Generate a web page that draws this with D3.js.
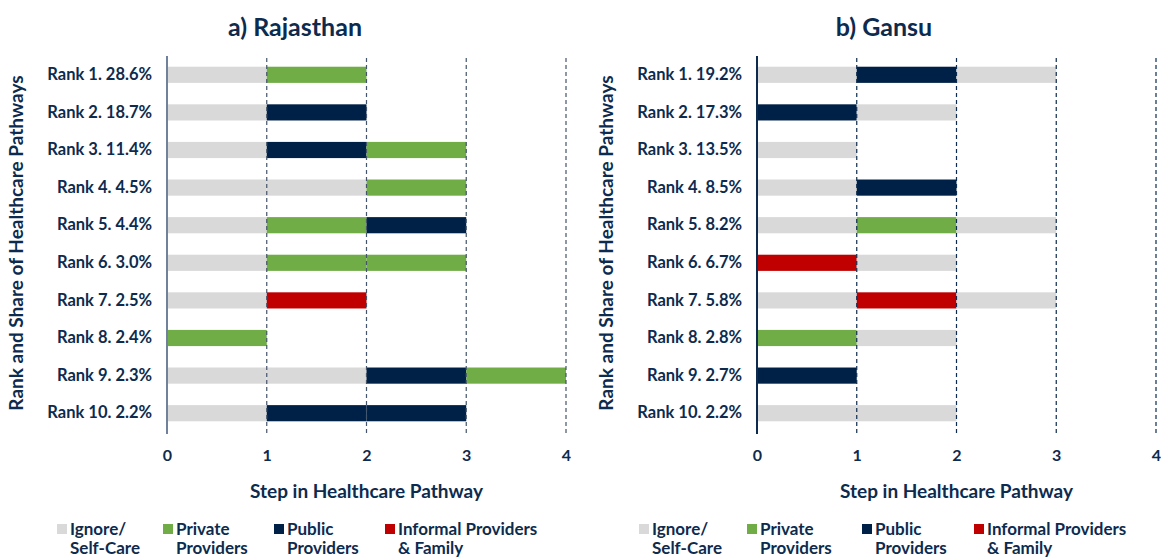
<!DOCTYPE html>
<html>
<head>
<meta charset="utf-8">
<script src="https://cdn.jsdelivr.net/npm/d3@7"></script>
<style>
  body { margin: 0; background: #fff; }
  text { font-family: 'Lato', 'Open Sans', sans-serif; font-weight: bold; fill: #0d2b4e; }
</style>
</head>
<body>
<div id="chart"></div>
<script>
// categories of care at each step
const stepTypes = ["self", "private", "public", "informal"];
const stepColors = ["#d9d9d9", "#70ad47", "#002147", "#c00000"];
const legendLabels = [["Ignore/", "Self-Care"], ["Private", "Providers"], ["Public", "Providers"], ["Informal Providers", "& Family"]];
const xTicks = [0, 1, 2, 3, 4];

// a) Rajasthan
const rajShares = ["28.6%", "18.7%", "11.4%", "4.5%", "4.4%", "3.0%", "2.5%", "2.4%", "2.3%", "2.2%"];
const rajPaths = [
  ["self", "private"],
  ["self", "public"],
  ["self", "public", "private"],
  ["self", "self", "private"],
  ["self", "private", "public"],
  ["self", "private", "private"],
  ["self", "informal"],
  ["private"],
  ["self", "self", "public", "private"],
  ["self", "public", "public"]
];

// b) Gansu
const ganShares = ["19.2%", "17.3%", "13.5%", "8.5%", "8.2%", "6.7%", "5.8%", "2.8%", "2.7%", "2.2%"];
const ganPaths = [
  ["self", "public", "self"],
  ["public", "self"],
  ["self"],
  ["self", "public"],
  ["self", "private", "self"],
  ["informal", "self"],
  ["self", "informal", "self"],
  ["private", "self"],
  ["public"],
  ["self", "self"]
];

const W = 1161, H = 559;
const svg = d3.select("#chart").append("svg")
  .attr("width", W)
  .attr("height", H);

const color = d3.scaleOrdinal().domain(stepTypes).range(stepColors);

function drawPanel(opts) {
  const g = svg.append("g");
  const x = d3.scaleLinear().domain([0, 4]).range([opts.x0, opts.x0 + 399]);
  const labels = opts.shares.map((s, i) => "Rank " + (i + 1) + ". " + s);
  const y = d3.scaleBand().domain(labels).range([56, 432])
    .paddingInner(0.57).paddingOuter(0.285);

  // flatten paths into segments
  const segs = [];
  opts.paths.forEach((p, i) => {
    p.forEach((t, j) => segs.push({ row: labels[i], step: j, type: t }));
  });

  g.selectAll("rect.seg")
    .data(segs)
    .enter().append("rect")
    .attr("class", "seg")
    .attr("x", d => x(d.step))
    .attr("width", d => x(d.step + 1) - x(d.step))
    .attr("y", d => y(d.row))
    .attr("height", y.bandwidth())
    .attr("fill", d => color(d.type));

  // dashed gridlines
  g.selectAll("line.grid")
    .data(xTicks.slice(1))
    .enter().append("line")
    .attr("class", "grid")
    .attr("x1", d => x(d)).attr("x2", d => x(d))
    .attr("y1", 58).attr("y2", 433)
    .attr("stroke", opts.gridColor)
    .attr("stroke-width", 1.2)
    .attr("stroke-dasharray", "4,3");

  // value axis line
  g.append("line")
    .attr("x1", x(0)).attr("x2", x(0))
    .attr("y1", 56).attr("y2", 434)
    .attr("stroke", opts.axisColor)
    .attr("stroke-width", 2);

  const ya = g.append("g")
    .attr("transform", "translate(" + x(0) + ",0)")
    .call(d3.axisLeft(y).tickSize(0).tickPadding(15));
  ya.select(".domain").remove();
  ya.selectAll("text").style("font-size", "16.5px").style("font-family", null).attr("fill", null);

  const xa = g.append("g")
    .attr("transform", "translate(0,450)")
    .call(d3.axisBottom(x).tickValues(xTicks).tickFormat(d3.format("d")).tickSize(0).tickPadding(0));
  xa.select(".domain").remove();
  xa.selectAll("text").style("font-size", "16px").style("font-family", null).attr("fill", null);

  // titles
  g.append("text")
    .attr("x", opts.titleX).attr("y", 36)
    .attr("text-anchor", "middle")
    .style("font-size", "25px")
    .text(opts.title);

  g.append("text")
    .attr("x", x(2)).attr("y", 498)
    .attr("text-anchor", "middle")
    .style("font-size", "19px")
    .text("Step in Healthcare Pathway");

  g.append("text")
    .attr("transform", "translate(" + (opts.x0 - 144) + ",243) rotate(-90)")
    .attr("text-anchor", "middle")
    .style("font-size", "19px")
    .text("Rank and Share of Healthcare Pathways");

  // legend
  const lg = g.selectAll("g.legend")
    .data(stepTypes)
    .enter().append("g")
    .attr("class", "legend")
    .attr("transform", (d, i) => "translate(" + opts.legendX[i] + ",524)");
  lg.append("rect")
    .attr("width", 10).attr("height", 10)
    .attr("fill", d => color(d));
  lg.each(function (d, i) {
    const t = d3.select(this).append("text")
      .attr("x", 13).attr("y", 11)
      .style("font-size", "17px");
    t.append("tspan").text(legendLabels[i][0]);
    t.append("tspan").attr("x", 13).attr("dy", 19).text(legendLabels[i][1]);
  });
}

drawPanel({
  title: "a) Rajasthan", titleX: 295, x0: 167,
  shares: rajShares, paths: rajPaths,
  gridColor: "#44546a", axisColor: "#6f819b",
  legendX: [57, 163, 274, 385]
});

drawPanel({
  title: "b) Gansu", titleX: 884, x0: 757,
  shares: ganShares, paths: ganPaths,
  gridColor: "#0d2b4e", axisColor: "#0d2b4e",
  legendX: [639, 747, 862, 974]
});
</script>
</body>
</html>
